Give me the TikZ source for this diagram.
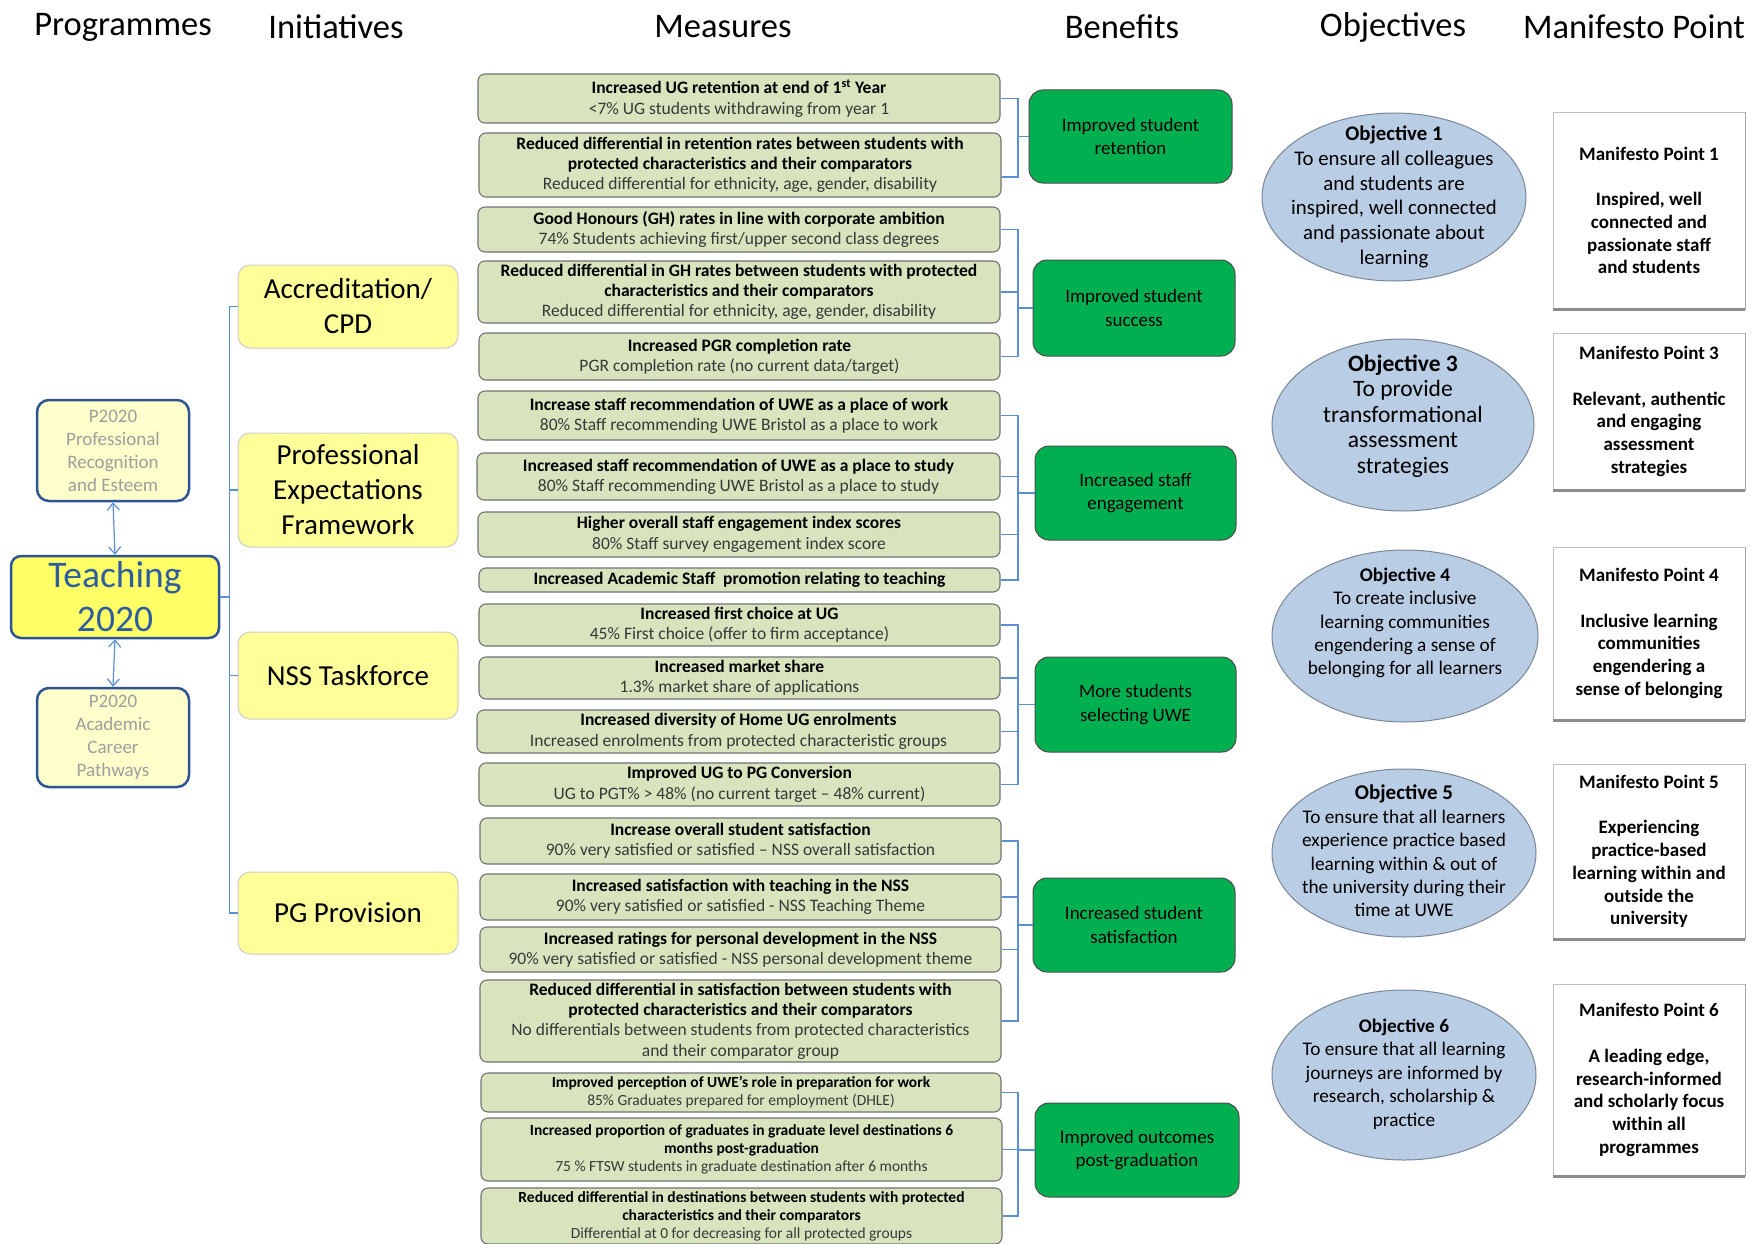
\documentclass[tikz,border=0pt]{standalone}
\usepackage{fontspec}
\setmainfont{Carlito}
\usetikzlibrary{shapes.geometric,arrows.meta}
\definecolor{measfill}{HTML}{D7E4BD}
\definecolor{benfill}{HTML}{00B050}
\definecolor{inifill}{HTML}{FFFF99}
\definecolor{progfill}{HTML}{FFFFCC}
\definecolor{teachfill}{HTML}{FFFF66}
\definecolor{navy}{HTML}{2F5496}
\definecolor{teachtxt}{HTML}{2E5C9E}
\definecolor{connblue}{HTML}{5B8FD4}
\definecolor{objfill}{HTML}{B9CDE5}
\definecolor{objline}{HTML}{7A8799}
\newcommand\msub[1]{{\color{black!78}#1}}
\newcommand\bx[7]{\node[#2, minimum width={#5-#3}, minimum height={#6-#4}] (#1) at ({(#3+#5)/2},{(#4+#6)/2}) {#7};}
\tikzset{
  hdr/.style={font=\fontsize{34.5}{40}\selectfont, inner sep=0pt},
  meas/.style={draw=black!55, line width=1.1pt, fill=measfill, rounded corners=7pt, inner sep=0pt, align=center, font=\fontsize{17.5}{20.3}\selectfont},
  meassm/.style={meas, font=\fontsize{15.5}{18}\selectfont},
  ben/.style={draw=black!70, line width=1pt, fill=benfill, rounded corners=14pt, inner sep=0pt, align=center, font=\fontsize{19}{23.5}\selectfont},
  ini/.style={draw=black!20, line width=1pt, fill=inifill, rounded corners=12pt, inner sep=0pt, align=center, font=\fontsize{29}{35}\selectfont},
  prog/.style={draw=navy, line width=2.5pt, fill=progfill, rounded corners=12pt, inner sep=0pt, align=center, text=black!38, font=\fontsize{19}{23}\selectfont},
  teach/.style={draw=navy, line width=2.5pt, fill=teachfill, rounded corners=10pt, inner sep=0pt, align=center, text=teachtxt, font=\fontsize{37.5}{44}\selectfont},
  obj/.style={ellipse, draw=objline, line width=1pt, fill=objfill, inner sep=0pt},
  objtxt/.style={align=center, inner sep=0pt},
  mani/.style={draw=black!25, line width=0.8pt, fill=white, inner sep=0pt, align=center, font=\bfseries\fontsize{19}{22.7}\selectfont},
  shade/.style={line width=3.5pt, black!45},
  conn/.style={draw=connblue, line width=1.5pt},
  dbl/.style={draw=connblue, line width=1.2pt, {Straight Barb[length=7pt,width=12pt]}-{Straight Barb[length=7pt,width=12pt]}}
}
\begin{document}
\begin{tikzpicture}[x=1pt, y=-1pt]
\fill[white] (0,0) rectangle (1764,1244);
\useasboundingbox (0,0) rectangle (1764,1244);

% headers
\node[hdr] (h1) at (123,27) {Programmes};
\node[hdr] (h2) at (336,27) {Initiatives};
\node[hdr] (h3) at (723,27) {Measures};
\node[hdr] (h4) at (1122,27) {Benefits};
\node[hdr] (h5) at (1393,27) {Objectives};
\node[hdr] (h6) at (1634,27) {Manifesto Point};

% programmes
\bx{p1}{prog}{37}{400}{189}{501}{P2020\\Professional\\Recognition\\and Esteem}
\bx{t}{teach}{11}{556}{219}{638}{Teaching\\2020}
\bx{p2}{prog}{37}{688}{189}{787}{P2020\\Academic\\Career\\Pathways}
\draw[dbl] (p1.south) -- (t.north);
\draw[dbl] (t.south) -- (p2.north);

% initiatives
\bx{i1}{ini}{238}{265}{458}{348}{Accreditation/\\CPD}
\bx{i2}{ini}{238}{433}{458}{547}{Professional\\Expectations\\Framework}
\bx{i3}{ini}{238}{632}{458}{719}{NSS Taskforce}
\bx{i4}{ini}{238}{872}{458}{954}{PG Provision}
\coordinate (tv) at (229.5,0);
\draw[conn] (t.east) -- (t.east -| tv);
\draw[conn] (i1.west) -- (i1.west -| tv) |- (i4.west);
\draw[conn] (i2.west) -- (i2.west -| tv);
\draw[conn] (i3.west) -- (i3.west -| tv);

% measures
\bx{m1}{meas}{478}{74}{1000}{123}{\textbf{Increased UG retention at end of 1\textsuperscript{st} Year}\\\msub{<7\% UG students withdrawing from year 1}}
\bx{m2}{meas}{479}{133}{1001}{197}{\textbf{Reduced differential in retention rates between students with}\\\textbf{protected characteristics and their comparators}\\\msub{Reduced differential for ethnicity, age, gender, disability}}
\bx{m3}{meas}{478}{207}{1000}{252}{\textbf{Good Honours (GH) rates in line with corporate ambition}\\\msub{74\% Students achieving first/upper second class degrees}}
\bx{m4}{meas}{478}{261}{1000}{323}{\textbf{Reduced differential in GH rates between students with protected}\\\textbf{characteristics and their comparators}\\\msub{Reduced differential for ethnicity, age, gender, disability}}
\bx{m5}{meas}{479}{333}{1000}{380}{\textbf{Increased PGR completion rate}\\\msub{PGR completion rate (no current data/target)}}
\bx{m6}{meas}{478}{391}{1000}{440}{\textbf{Increase staff recommendation of UWE as a place of work}\\\msub{80\% Staff recommending UWE Bristol as a place to work}}
\bx{m7}{meas}{477}{453}{1000}{500}{\textbf{Increased staff recommendation of UWE as a place to study}\\\msub{80\% Staff recommending UWE Bristol as a place to study}}
\bx{m8}{meas}{478}{512}{1000}{557}{\textbf{Higher overall staff engagement index scores}\\\msub{80\% Staff survey engagement index score}}
\bx{m9}{meas}{479}{568}{1000}{592}{\textbf{Increased Academic Staff\ \ promotion relating to teaching}}
\bx{m10}{meas}{479}{604}{1000}{646}{\textbf{Increased first choice at UG}\\\msub{45\% First choice (offer to firm acceptance)}}
\bx{m11}{meas}{479}{657}{1000}{699}{\textbf{Increased market share}\\\msub{1.3\% market share of applications}}
\bx{m12}{meas}{477}{710}{1000}{753}{\textbf{Increased diversity of Home UG enrolments}\\\msub{Increased enrolments from protected characteristic groups}}
\bx{m13}{meas}{479}{763}{1000}{806}{\textbf{Improved UG to PG Conversion}\\\msub{UG to PGT\% > 48\% (no current target – 48\% current)}}
\bx{m14}{meas}{480}{818}{1001}{864}{\textbf{Increase overall student satisfaction}\\\msub{90\% very satisfied or satisfied – NSS overall satisfaction}}
\bx{m15}{meas}{480}{874}{1001}{920}{\textbf{Increased satisfaction with teaching in the NSS}\\\msub{90\% very satisfied or satisfied - NSS Teaching Theme}}
\bx{m16}{meas}{480}{927}{1001}{972}{\textbf{Increased ratings for personal development in the NSS}\\\msub{90\% very satisfied or satisfied - NSS personal development theme}}
\bx{m17}{meas}{480}{980}{1001}{1062}{\textbf{Reduced differential in satisfaction between students with}\\\textbf{protected characteristics and their comparators}\\\msub{No differentials between students from protected characteristics}\\\msub{and their comparator group}}
\bx{m18}{meassm}{481}{1073}{1001}{1112}{\textbf{Improved perception of UWE’s role in preparation for work}\\\msub{85\% Graduates prepared for employment (DHLE)}}
\bx{m19}{meassm}{481}{1118}{1002}{1181}{\textbf{Increased proportion of graduates in graduate level destinations 6}\\\textbf{months post-graduation}\\\msub{75 \% FTSW students in graduate destination after 6 months}}
\bx{m20}{meassm}{481}{1188}{1002}{1244}{\textbf{Reduced differential in destinations between students with protected}\\\textbf{characteristics and their comparators}\\\msub{Differential at 0 for decreasing for all protected groups}}

% benefits
\bx{b1}{ben}{1029}{90}{1232}{183}{Improved student\\retention}
\bx{b2}{ben}{1033}{260}{1235}{356}{Improved student\\success}
\bx{b3}{ben}{1035}{446}{1236}{540}{Increased staff\\engagement}
\bx{b4}{ben}{1035}{657}{1236}{752}{More students\\selecting UWE}
\bx{b5}{ben}{1033}{878}{1235}{972}{Increased student\\satisfaction}
\bx{b6}{ben}{1035}{1103}{1239}{1197}{Improved outcomes\\post-graduation}

% brackets
\coordinate (bk) at (1018,0);
\draw[conn] (m1.east) -- (m1.east -| bk) |- ([yshift=-12pt]m2.east);
\draw[conn] (bk |- b1.west) -- (b1.west);
\draw[conn] (m3.east) -- (m3.east -| bk) |- (m5.east);
\draw[conn] (m4.east) -- (m4.east -| bk);
\draw[conn] (bk |- b2.west) -- (b2.west);
\draw[conn] (m6.east) -- (m6.east -| bk) |- (m9.east);
\draw[conn] (m7.east) -- (m7.east -| bk);
\draw[conn] (m8.east) -- (m8.east -| bk);
\draw[conn] (bk |- b3.west) -- (b3.west);
\draw[conn] (m10.east) -- (m10.east -| bk) |- (m13.east);
\draw[conn] (m11.east) -- (m11.east -| bk);
\draw[conn] (m12.east) -- (m12.east -| bk);
\draw[conn] (bk |- b4.west) -- (b4.west);
\draw[conn] (m14.east) -- (m14.east -| bk) |- (m17.east);
\draw[conn] (m15.east) -- (m15.east -| bk);
\draw[conn] (m16.east) -- (m16.east -| bk);
\draw[conn] (bk |- b5.west) -- (b5.west);
\draw[conn] (m18.east) -- (m18.east -| bk) |- (m20.east);
\draw[conn] (m19.east) -- (m19.east -| bk);
\draw[conn] (bk |- b6.west) -- (b6.west);

% objectives
\node[obj, minimum width=264, minimum height=168] (o1) at (1394,197) {};
\node[objtxt, font=\fontsize{20.8}{24.8}\selectfont] (o1t) at (1394,197) {\textbf{Objective 1}\\To ensure all colleagues\\and students are\\inspired, well connected\\and passionate about\\learning};
\node[obj, minimum width=262, minimum height=172] (o3) at (1403,425) {};
\node[objtxt, font=\fontsize{23.5}{25.5}\selectfont] (o3t) at (1403,416) {\textbf{Objective 3}\\To provide\\transformational\\assessment\\strategies};
\node[obj, minimum width=266, minimum height=172] (o4) at (1405,636) {};
\node[objtxt, font=\fontsize{19.3}{23.2}\selectfont] (o4t) at (1405,623) {\textbf{Objective 4}\\To create inclusive\\learning communities\\engendering a sense of\\belonging for all learners};
\node[obj, minimum width=264, minimum height=168] (o5) at (1404,853) {};
\node[objtxt, font=\fontsize{19.3}{23.4}\selectfont] (o5t) at (1404,851) {\textbf{\fontsize{21}{23.4}\selectfont Objective 5}\\To ensure that all learners\\experience practice based\\learning within \& out of\\the university during their\\time at UWE};
\node[obj, minimum width=264, minimum height=170] (o6) at (1404,1075) {};
\node[objtxt, font=\fontsize{19.3}{23.4}\selectfont] (o6t) at (1404,1074) {\textbf{Objective 6}\\To ensure that all learning\\journeys are informed by\\research, scholarship \&\\practice};

% manifesto
\bx{mp1}{mani}{1553}{112}{1745}{309}{Manifesto Point 1\\[22.7pt]Inspired, well\\connected and\\passionate staff\\and students}
\bx{mp3}{mani}{1553}{333}{1745}{490}{Manifesto Point 3\\[22.7pt]Relevant, authentic\\and engaging\\assessment\\strategies}
\bx{mp4}{mani}{1553}{547}{1745}{720}{Manifesto Point 4\\[22.7pt]Inclusive learning\\communities\\engendering a\\sense of belonging}
\bx{mp5}{mani}{1553}{764}{1745}{939}{Manifesto Point 5\\[22.7pt]Experiencing\\practice-based\\learning within and\\outside the\\university}
\bx{mp6}{mani}{1553}{984}{1745}{1176}{Manifesto Point 6\\[22.7pt]A leading edge,\\research-informed\\and scholarly focus\\within all\\programmes}
\foreach \m in {mp1,mp3,mp4,mp5,mp6}{
  \draw[shade] (\m.south west) -- (\m.south east);
  \draw[line width=1.5pt, black!35] (\m.north east) -- (\m.south east);
}
\end{tikzpicture}
\end{document}
